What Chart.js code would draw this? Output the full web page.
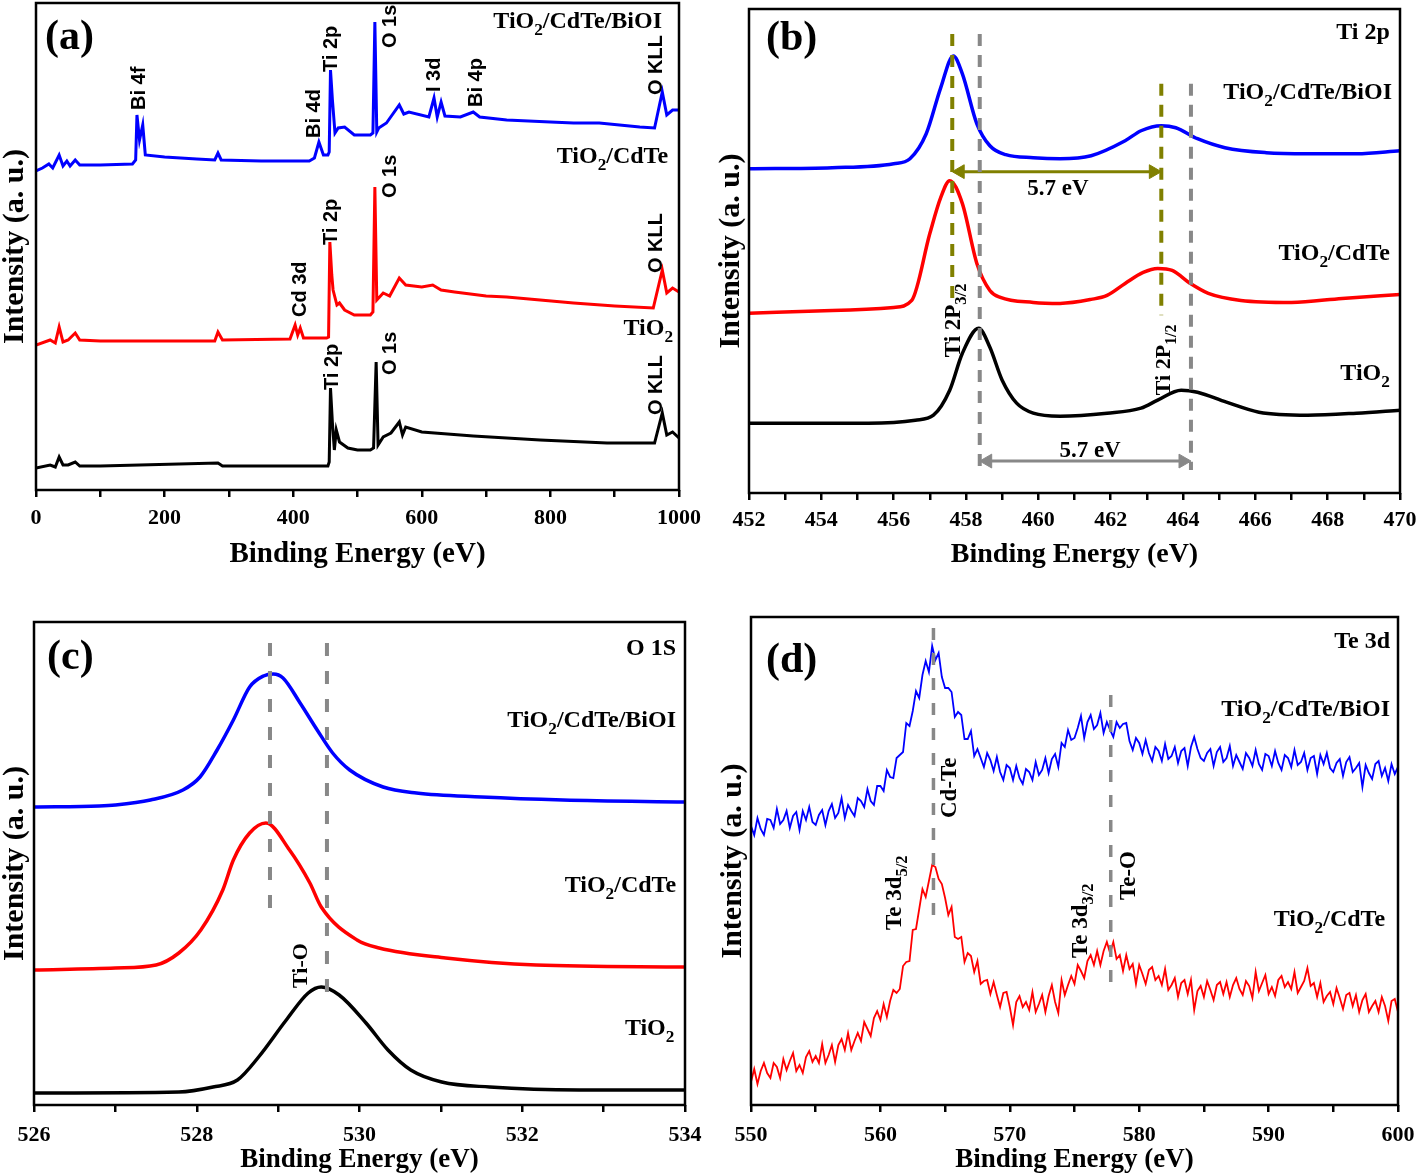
<!DOCTYPE html>
<html>
<head>
<meta charset="utf-8">
<script src="https://cdn.jsdelivr.net/npm/chart.js@4.4.1/dist/chart.umd.min.js"></script>
<style>
  body { margin: 0; background: #fff; }
  #wrap { position: relative; width: 1418px; height: 1175px; overflow: hidden; }
  canvas { position: absolute; }
</style>
</head>
<body>
<div id="wrap">
  <canvas id="chartA" width="709" height="585" style="left:0;top:0"></canvas>
  <canvas id="chartB" width="718" height="585" style="left:700px;top:0"></canvas>
  <canvas id="chartC" width="709" height="590" style="left:0;top:585px"></canvas>
  <canvas id="chartD" width="718" height="590" style="left:700px;top:585px"></canvas>
</div>
<script>
// (a) survey spectra
const surveyBlueE = [0,10,20,26,36,42,48,53,61,68, 100,150,155,157,161,166,170,200,250,278,
  283,288,350,425,433,440,447,454,456,458, 461,465,470,480,495,520,524,527,530,533,
  545,565,572,580,611,619,624,630,636,660, 680,690,732,800,836,876,939,962,974,981, 990,1000];
const surveyBlue = [319,322,326,322,335,324,329,324,330,325, 325,326,330,375,350,365,335,333,331,330,
  337,330,329,329,332,348,335,335,338,420, 390,357,362,363,355,355,357,468,358,362,
  367,385,376,378,373,392,373,388,374,373, 378,373,370,368,367,367,363,362,398,375, 380,380];
const surveyRedE = [0,22,30,36,42,50,61,68, 100,200,278,283,290, 395,403,407,411,416,
  452,455,457,460,462,468,472,480,495,520,524,527,530, 540,550,565,575,600,617,630,651,700,732,
  836,900,960,974,981,990,1000];
const surveyRed = [145,150,147,163,148,150,157,150, 149,149,149,158,150, 151,165,155,162,152,
  152,153,248,215,200,185,187,180,175,175,178,303,190, 197,194,212,205,203,205,200,198,194,193,
  187,184,182,220,197,202,198];
const surveyBlackE = [0,22,30,36,42,50,61,68, 100,283,290, 454,456,458,461,464,467,472,485,500,520,525,529,532,
  540,552,565,570,575,600,680,784,888,962,974,981,990,1000];
const surveyBlack = [22,25,23,33,25,25,28,24, 24,27,24, 24,28,102,67,40,60,48,42,40,40,42,128,45,
  53,57,68,55,63,58,54,50,47,47,77,55,58,52];

// (b) Ti 2p
const tiBlueE = [452,454.3,456,456.45,456.9,457.3,457.65,457.9,458.3,458.66,459.1,459.86,460.6,461.46,462.4,462.84,463.4,463.8,464.4,465.16,466.3,467.45,468.8,470];
const tiBlue = [325,326,330,335,360,406,438,420,370,348,339,336,335,338,353,363,368,366,355,346,341,340,340,343];
const tiRedE = [452,454.3,456,456.5,457,457.3,457.55,457.9,458.3,458.66,458.95,459.86,460.6,461.46,461.9,462.4,462.9,463.3,463.7,464.2,464.7,465.6,467,468.4,470];
const tiRed = [180,183,186,193,260,296,313,290,230,203,196,191,190,194,198,210,221,225,223,210,200,193,191,195,199];
const tiBlackE = [452,455.3,456.6,457.1,457.55,457.9,458.35,458.66,459,459.4,459.86,460.6,461.9,462.84,463.3,463.95,464.4,465.2,466.1,467.45,468.8,470];
const tiBlack = [70,70,73,78,103,140,165,146,113,90,80,77,80,85,93,103,101,91,81,78,80,83];

// (c) O 1s
const oBlueE = [526,526.8,527,527.43,527.83,528.04,528.25,528.45,528.65,528.82,528.94,529.06,529.27,529.48,529.67,529.88,530.29,530.7,531.5,532.5,534];
const oBlue = [298,299,300,305,315,328,355,385,418,429,431,427,402,375,352,335,318,312,308,305,303];
const oRedE = [526,527,527.5,527.78,528.05,528.32,528.45,528.65,528.85,529.14,529.39,529.53,529.97,530.24,531.06,532.17,534];
const oRed = [135,137,140,152,175,215,245,272,282,255,222,198,165,157,147,140,138];
const oBlackE = [526,527.78,528.2,528.5,528.76,529.1,529.37,529.53,529.75,530.08,530.35,530.63,531.01,531.6,532.7,534];
const oBlack = [12,13,18,25,48,85,112,118,110,82,55,35,23,18,15,15];

// (d) Te 3d
const teE = [
  550,550.25,550.5,550.75,551,551.25,551.5,551.75,
  552,552.25,552.5,552.75,553,553.25,553.5,553.75,
  554,554.25,554.5,554.75,555,555.25,555.5,555.75,
  556,556.25,556.5,556.75,557,557.25,557.5,557.75,
  558,558.25,558.5,558.75,559,559.25,559.5,559.75,
  560,560.25,560.5,560.75,561,561.25,561.5,561.75,
  562,562.25,562.5,562.75,563,563.25,563.5,563.75,
  564,564.25,564.5,564.75,565,565.25,565.5,565.75,
  566,566.25,566.5,566.75,567,567.25,567.5,567.75,
  568,568.25,568.5,568.75,569,569.25,569.5,569.75,
  570,570.25,570.5,570.75,571,571.25,571.5,571.75,
  572,572.25,572.5,572.75,573,573.25,573.5,573.75,
  574,574.25,574.5,574.75,575,575.25,575.5,575.75,
  576,576.25,576.5,576.75,577,577.25,577.5,577.75,
  578,578.25,578.5,578.75,579,579.25,579.5,579.75,
  580,580.25,580.5,580.75,581,581.25,581.5,581.75,
  582,582.25,582.5,582.75,583,583.25,583.5,583.75,
  584,584.25,584.5,584.75,585,585.25,585.5,585.75,
  586,586.25,586.5,586.75,587,587.25,587.5,587.75,
  588,588.25,588.5,588.75,589,589.25,589.5,589.75,
  590,590.25,590.5,590.75,591,591.25,591.5,591.75,
  592,592.25,592.5,592.75,593,593.25,593.5,593.75,
  594,594.25,594.5,594.75,595,595.25,595.5,595.75,
  596,596.25,596.5,596.75,597,597.25,597.5,597.75,
  598,598.25,598.5,598.75,599,599.25,599.5,599.75,
  600];
const teBlue = [
  279,270,287,276,270,286,285,277,
  296,281,285,294,277,289,293,275,294,285,298,283,280,
  290,295,280,294,301,287,292,307,287,300,294,289,
  307,304,298,316,304,300,319,319,
  314,335,328,327,347,350,
  353,382,379,394, 414,407,430,444, 433,459,445,452, 428,417,417,413,
  388,393,390,366, 366,374,349,356,
  347,338,352,345,334,348, 333,325,340,337,325,339,
  327,321,336,333,325,343, 330,335,347,332,346,351,
  338,362,358,375,365,367, 377,389,367,383,390,376,
  380,392,372,383,375,368, 383,377,381,382, 364,355,367,362,
  351,365,352,344,358,354,344,361,
  346,349,358,342,354,357,339,358,368,356,347,344,
  352,356,339,353,358,343,347,359,339,350,343,336,
  352,347,339,355,341,335,351,349,339,354,342,335,
  350,347,338,355,340,343,352,335,347,349,331,350,
  341,352,337,333,342,346,329,343,348,333,337,342,
  318,340,332,326,341,344,329,337,324,341,331,338];
const teRed = [
  23,36,21,34,42,32,27,42,38,
  27,46,35,44,52,34,40,32,
  48,54,43,49,42,61,42,50,
  60,43,60,66,55,72,55,64,
  72,64,83,76,69,87,
  94,85,101,88,104,115,
  112,116,139,143, 144,175,176,196, 216,208,
  224,240,238,226, 221,207,
  190,198,168,166, 168,143,152,149, 133,144,121,124, 125,111,123,110,
  98,112,113,98,80,103, 109,98,103,95,113,93,
  101,110,93,109,120,103,92, 125,110,120,129,121,
  140,134,127,144,150,140, 154,140,154,163, 152,163,
  146,150,134,150, 136,141,121,140,
  131,121,135,138,125,129,120,136,
  115,120,127,108,122,125,111,125,
  95,114,119,108, 124,115,105,120,
  123,111,123,108,120,127,116,110,
  124,119,107,133,114,122,130,111,
  118,109,125,129,118,123,116,133,
  112,118,124,137,119,122,108,122,
  103,109,113,101,117,107,96,110,
  112,99,110,93,105,111,93,99,
  104,93,108,99,84,104,106,93];

const SERIF = "'Liberation Serif', 'Times New Roman', serif";
const SANS = "'Liberation Sans', Arial, sans-serif";
const BLUE = '#0000ff', RED = '#ff0000', BLACK = '#000000';
const GRAY = '#888888', OLIVE = '#808000';

function pairs(xs, ys) {
  return xs.map((x, i) => ({ x: x, y: ys[i] }));
}

function curve(xs, ys, color, width, smooth) {
  return {
    data: pairs(xs, ys), borderColor: color, borderWidth: width,
    pointRadius: 0, tension: 0, cubicInterpolationMode: smooth ? 'monotone' : 'default',
    order: 2
  };
}

function vline(x, y0, y1, color, width, dash) {
  return {
    data: [{ x: x, y: y0 }, { x: x, y: y1 }], borderColor: color, borderWidth: width,
    borderDash: dash, pointRadius: 0, order: 1
  };
}

function arrow(x0, x1, yv, color) {
  return {
    data: [{ x: x0, y: yv }, { x: x1, y: yv }], borderColor: color, borderWidth: 3,
    pointStyle: 'triangle', pointRadius: 8, pointRotation: [-90, 90],
    pointBackgroundColor: color, pointBorderColor: color, pointBorderWidth: 1, order: 1
  };
}

// split "TiO_{2}" into normal / subscript pieces
function parts(text) {
  const out = [];
  const re = /_\{([^}]*)\}/g;
  let last = 0, m;
  while ((m = re.exec(text))) {
    if (m.index > last) out.push({ s: text.slice(last, m.index), sub: false });
    out.push({ s: m[1], sub: true });
    last = re.lastIndex;
  }
  if (last < text.length) out.push({ s: text.slice(last), sub: false });
  return out;
}

const framePlugin = {
  id: 'frame',
  afterDatasetsDraw(chart) {
    const { ctx, chartArea: a } = chart;
    ctx.save();
    ctx.strokeStyle = '#000';
    ctx.lineWidth = 2.5;
    ctx.strokeRect(a.left, a.top, a.right - a.left, a.bottom - a.top);
    ctx.restore();
  }
};

function notesPlugin(items) {
  return {
    id: 'notes',
    afterDraw(chart) {
      const ctx = chart.ctx;
      const sx = chart.scales.x, sy = chart.scales.y;
      items.forEach(n => {
        const size = n.size || 24;
        const fam = n.sans ? SANS : SERIF;
        const segs = parts(n.t);
        ctx.save();
        ctx.fillStyle = '#000';
        ctx.textBaseline = 'alphabetic';
        ctx.textAlign = 'left';
        const widths = segs.map(g => {
          ctx.font = 'bold ' + (g.sub ? size * 0.72 : size) + 'px ' + fam;
          return ctx.measureText(g.s).width;
        });
        const total = widths.reduce((a, b) => a + b, 0);
        ctx.translate(sx.getPixelForValue(n.x), sy.getPixelForValue(n.y));
        let cx = 0, by = 0;
        if (n.rot) {
          ctx.rotate(-Math.PI / 2);
          by = size * 0.34;
        } else {
          if (n.align === 'right') cx = -total;
          else if (n.align === 'center') cx = -total / 2;
          if (n.mid) by = size * 0.34;
        }
        segs.forEach((g, i) => {
          ctx.font = 'bold ' + (g.sub ? size * 0.72 : size) + 'px ' + fam;
          ctx.fillText(g.s, cx, by + (g.sub ? size * 0.28 : 0));
          cx += widths[i];
        });
        ctx.restore();
      });
    }
  };
}

function makeChart(id, cfg) {
  return new Chart(document.getElementById(id), {
    type: 'line',
    data: { datasets: cfg.datasets },
    options: {
      responsive: false,
      animation: false,
      layout: { padding: cfg.pad },
      plugins: { legend: { display: false }, tooltip: { enabled: false } },
      scales: {
        x: {
          type: 'linear', min: cfg.xmin, max: cfg.xmax,
          ticks: {
            stepSize: cfg.step, autoSkip: false, maxRotation: 0, padding: cfg.tickPad, color: '#000',
            font: { family: SERIF, size: 22, weight: 'bold', lineHeight: 1.2 },
            callback: v => (Math.round(v) % cfg.labelEvery === 0 ? v : '')
          },
          grid: { drawOnChartArea: false, drawTicks: true, tickLength: 7, color: '#000', lineWidth: 2.5 },
          border: { display: false },
          title: {
            display: true, text: 'Binding Energy (eV)', color: '#000',
            font: { family: SERIF, size: cfg.xTitleSize, weight: 'bold', lineHeight: 1 },
            padding: { top: 0, bottom: cfg.xTitlePad }
          },
          afterFit: s => {
            s.height = cfg.xh;
            // end labels may overhang the frame, as in the figure
            s.paddingLeft = 0;
            s.paddingRight = 0;
          }
        },
        y: {
          min: 0, max: cfg.ymax,
          ticks: { display: false },
          grid: { display: false },
          border: { display: false },
          title: {
            display: true, text: 'Intensity (a. u.)', color: '#000',
            font: { family: SERIF, size: 30, weight: 'bold', lineHeight: 1 },
            padding: { top: cfg.yTitlePad, bottom: 0 }
          },
          afterFit: s => { s.width = cfg.yw; }
        }
      }
    },
    plugins: [framePlugin, notesPlugin(cfg.notes)]
  });
}

makeChart('chartA', {
  xmin: 0, xmax: 1000, step: 100, labelEvery: 200, ymax: 487,
  pad: { top: 3, right: 30, bottom: 0, left: 0 }, yw: 36, xh: 95,
  tickPad: 8, xTitleSize: 29, xTitlePad: 16, yTitlePad: 0,
  datasets: [
    curve(surveyBlueE, surveyBlue, BLUE, 3, false),
    curve(surveyRedE, surveyRed, RED, 3, false),
    curve(surveyBlackE, surveyBlack, BLACK, 3, false)
  ],
  notes: [
    { t: '(a)', x: 14, y: 455, size: 42, mid: true },
    { t: 'TiO_{2}/CdTe/BiOI', x: 973.6, y: 462, align: 'right' },
    { t: 'TiO_{2}/CdTe', x: 983, y: 327, align: 'right' },
    { t: 'TiO_{2}', x: 990.7, y: 155, align: 'right' },
    { t: 'Bi 4f', x: 159, y: 380, rot: true, sans: true, size: 20 },
    { t: 'Bi 4d', x: 431, y: 352, rot: true, sans: true, size: 20 },
    { t: 'Ti 2p', x: 457, y: 418, rot: true, sans: true, size: 20 },
    { t: 'O 1s', x: 549, y: 442, rot: true, sans: true, size: 20 },
    { t: 'I 3d', x: 617, y: 398, rot: true, sans: true, size: 20 },
    { t: 'Bi 4p', x: 683, y: 383, rot: true, sans: true, size: 20 },
    { t: 'O KLL', x: 963, y: 395, rot: true, sans: true, size: 20 },
    { t: 'Cd 3d', x: 409, y: 173, rot: true, sans: true, size: 20 },
    { t: 'Ti 2p', x: 457, y: 245, rot: true, sans: true, size: 20 },
    { t: 'O 1s', x: 549, y: 292, rot: true, sans: true, size: 20 },
    { t: 'O KLL', x: 963, y: 217, rot: true, sans: true, size: 20 },
    { t: 'Ti 2p', x: 459, y: 100, rot: true, sans: true, size: 20 },
    { t: 'O 1s', x: 549, y: 115, rot: true, sans: true, size: 20 },
    { t: 'O KLL', x: 963, y: 75, rot: true, sans: true, size: 20 }
  ]
});

makeChart('chartB', {
  xmin: 452, xmax: 470, step: 1, labelEvery: 2, ymax: 485,
  pad: { top: 8, right: 18, bottom: 0, left: 0 }, yw: 49, xh: 92,
  tickPad: 7, xTitleSize: 28, xTitlePad: 16, yTitlePad: 16,
  datasets: [
    vline(457.62, 460, 188, OLIVE, 4, [12, 9]),
    vline(463.4, 410, 178, OLIVE, 4, [12, 9]),
    vline(458.38, 460, 25, GRAY, 4, [12, 9]),
    vline(464.22, 410, 23, GRAY, 4, [12, 9]),
    arrow(457.84, 463.18, 322, OLIVE),
    arrow(458.6, 464.0, 32, GRAY),
    curve(tiBlueE, tiBlue, BLUE, 3.5, true),
    curve(tiRedE, tiRed, RED, 3.5, true),
    curve(tiBlackE, tiBlack, BLACK, 3.5, true)
  ],
  notes: [
    { t: '(b)', x: 452.47, y: 458, size: 42, mid: true },
    { t: 'Ti 2p', x: 469.72, y: 455, align: 'right' },
    { t: 'TiO_{2}/CdTe/BiOI', x: 469.78, y: 395, align: 'right' },
    { t: 'TiO_{2}/CdTe', x: 469.72, y: 233, align: 'right' },
    { t: 'TiO_{2}', x: 469.72, y: 113, align: 'right' },
    { t: '5.7 eV', x: 460.54, y: 306, size: 23, align: 'center', mid: true },
    { t: '5.7 eV', x: 461.43, y: 44, size: 23, align: 'center', mid: true },
    { t: 'Ti 2P_{3/2}', x: 457.61, y: 136, rot: true, size: 23 },
    { t: 'Ti 2P_{1/2}', x: 463.42, y: 98, rot: true, size: 22 }
  ]
});

makeChart('chartC', {
  xmin: 526, xmax: 534, step: 1, labelEvery: 2, ymax: 483,
  pad: { top: 37, right: 24, bottom: 0, left: 0 }, yw: 34, xh: 70,
  tickPad: 10, xTitleSize: 27, xTitlePad: 1, yTitlePad: 0,
  datasets: [
    vline(528.9, 462, 193, GRAY, 4, [13, 15]),
    vline(529.6, 462, 105, GRAY, 4, [13, 15]),
    curve(oBlueE, oBlue, BLUE, 3.5, true),
    curve(oRedE, oRed, RED, 3.5, true),
    curve(oBlackE, oBlack, BLACK, 3.5, true)
  ],
  notes: [
    { t: '(c)', x: 526.16, y: 450, size: 42, mid: true },
    { t: 'O 1S', x: 533.89, y: 450, align: 'right' },
    { t: 'TiO_{2}/CdTe/BiOI', x: 533.89, y: 378, align: 'right' },
    { t: 'TiO_{2}/CdTe', x: 533.89, y: 213, align: 'right' },
    { t: 'TiO_{2}', x: 533.87, y: 70, align: 'right' },
    { t: 'Ti-O', x: 529.26, y: 117, rot: true, size: 22 }
  ]
});

makeChart('chartD', {
  xmin: 550, xmax: 600, step: 5, labelEvery: 10, ymax: 488,
  pad: { top: 32, right: 20, bottom: 0, left: 0 }, yw: 51, xh: 70,
  tickPad: 10, xTitleSize: 27, xTitlePad: 1, yTitlePad: 18,
  datasets: [
    vline(564.1, 477, 183, GRAY, 3.5, [12, 13]),
    vline(577.8, 410, 112, GRAY, 3.5, [12, 13]),
    curve(teE, teBlue, BLUE, 1.8, false),
    curve(teE, teRed, RED, 1.8, false)
  ],
  notes: [
    { t: '(d)', x: 551.16, y: 447, size: 42, mid: true },
    { t: 'Te 3d', x: 599.38, y: 457, align: 'right' },
    { t: 'TiO_{2}/CdTe/BiOI', x: 599.38, y: 389, align: 'right' },
    { t: 'TiO_{2}/CdTe', x: 599, y: 179, align: 'right' },
    { t: 'Cd-Te', x: 565.22, y: 287, rot: true, size: 23 },
    { t: 'Te 3d_{5/2}', x: 560.97, y: 175, rot: true, size: 23 },
    { t: 'Te 3d_{3/2}', x: 575.35, y: 147, rot: true, size: 23 },
    { t: 'Te-O', x: 579.06, y: 205, rot: true, size: 23 }
  ]
});
</script>
</body>
</html>
